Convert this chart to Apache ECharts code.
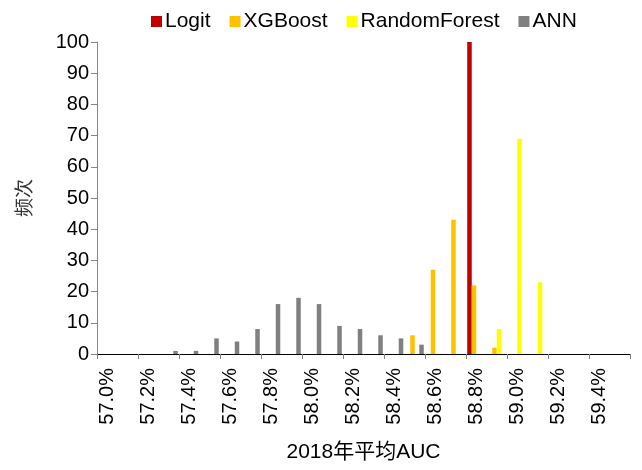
<!DOCTYPE html>
<html><head><meta charset="utf-8">
<script src="https://cdn.jsdelivr.net/npm/echarts@6/dist/echarts.min.js"></script>
<style>html,body{margin:0;padding:0;background:#fff}#c{width:642px;height:470px}</style>
</head><body><div id="c"></div>
<script>
const categories = ['57.0%','57.1%','57.2%','57.3%','57.4%','57.5%','57.6%','57.7%','57.8%','57.9%','58.0%','58.1%','58.2%','58.3%','58.4%','58.5%','58.6%','58.7%','58.8%','58.9%','59.0%','59.1%','59.2%','59.3%','59.4%','59.5%'];
const logit =   [0,0,0,0,0,0,0,0,0,0,0,0,0,0,0,0,0,0,100,0,0,0,0,0,0,0];
const xgboost = [0,0,0,0,0,0,0,0,0,0,0,0,0,0,0,6,27,43,22,2,0,0,0,0,0,0];
const randomForest = [0,0,0,0,0,0,0,0,0,0,0,0,0,0,0,0,0,0,0,8,69,23,0,0,0,0];
const ann =     [0,0,0,1,1,5,4,8,16,18,16,9,8,6,5,3,0,0,0,0,0,0,0,0,0,0];
const yTicks = {min:0, max:100, interval:10};
const FONT = 'Liberation Sans, Arial, sans-serif';
const chart = echarts.init(document.getElementById('c'), null, {renderer:'canvas'});
function bar(name, data, color){
  return {name, type:'bar', data, barGap:'0%', barCategoryGap:'12%', itemStyle:{color}, animation:false};
}
chart.setOption({
  animation:false,
  textStyle:{fontFamily:FONT},
  legend:{top:6, left:146, itemWidth:11, itemHeight:11, itemGap:19,
    icon:'rect', textStyle:{fontSize:21, color:'#000', fontFamily:FONT, padding:[0,0,0,-2]},
    data:['Logit','XGBoost','RandomForest','ANN']},
  grid:{left:97, right:12, top:42, bottom:116, containLabel:false, outerBoundsMode:'none'},
  xAxis:{type:'category', data:categories, boundaryGap:true,
    name:'2018年平均AUC', nameLocation:'middle', nameGap:88,
    nameTextStyle:{fontSize:21, color:'#000', fontFamily:'Liberation Sans, Noto Sans CJK SC, sans-serif'},
    axisLine:{lineStyle:{color:'#000', width:1}},
    axisTick:{show:true, interval:1, alignWithLabel:false, length:5, lineStyle:{color:'#808080'}},
    axisLabel:{interval:1, rotate:90, fontSize:20, color:'#000', margin:14, fontFamily:FONT}},
  yAxis:{type:'value', min:yTicks.min, max:yTicks.max, interval:yTicks.interval,
    name:'频次', nameLocation:'middle', nameGap:64, nameRotate:90,
    nameTextStyle:{fontSize:19, color:'#333', fontFamily:'Noto Sans CJK SC, sans-serif'},
    axisLine:{show:true, lineStyle:{color:'#868686'}},
    axisTick:{show:true, length:6, lineStyle:{color:'#868686'}},
    splitLine:{show:false},
    axisLabel:{fontSize:20, color:'#000', margin:8, fontFamily:FONT}},
  series:[
    bar('Logit', logit, '#C00000'),
    bar('XGBoost', xgboost, '#FFC000'),
    bar('RandomForest', randomForest, '#FFFF00'),
    bar('ANN', ann, '#808080')
  ]
});
</script></body></html>
